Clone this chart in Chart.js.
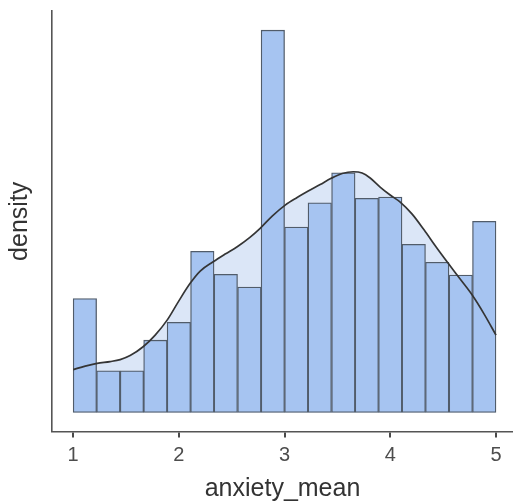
<!DOCTYPE html>
<html>
<head>
<meta charset="utf-8">
<script src="https://cdn.jsdelivr.net/npm/chart.js@4"></script>
<style>
html,body{margin:0;padding:0;background:#fff;}
#wrap{width:513px;height:504px;position:relative;}
</style>
</head>
<body>
<div id="wrap"><canvas id="c" width="513" height="504"></canvas></div>
<script>
// Histogram bins (centres of 18 bins from 1 to 5) and densities
const binCenters = [1.111, 1.333, 1.556, 1.778, 2.000, 2.222, 2.444, 2.667, 2.889,
                    3.111, 3.333, 3.556, 3.778, 4.000, 4.222, 4.444, 4.667, 4.889];
const binDensity = [0.178, 0.065, 0.065, 0.113, 0.141, 0.252, 0.216, 0.196, 0.598,
                    0.290, 0.328, 0.375, 0.335, 0.337, 0.263, 0.235, 0.215, 0.299];
// Kernel density curve
const kdeX = [1.000, 1.114, 1.227, 1.350, 1.445, 1.539, 1.662, 1.776, 1.889, 1.993,
              2.107, 2.202, 2.325, 2.438, 2.552, 2.675, 2.769, 2.883, 3.006, 3.119,
              3.242, 3.337, 3.441, 3.545, 3.649, 3.734, 3.810, 3.904, 3.999, 4.094,
              4.207, 4.321, 4.434, 4.548, 4.661, 4.775, 4.888, 5.000];
const kdeY = [0.067, 0.0725, 0.0767, 0.0795, 0.0826, 0.0889, 0.1027, 0.121, 0.1444, 0.1726,
              0.2019, 0.2211, 0.2357, 0.2477, 0.2592, 0.2743, 0.288, 0.3072, 0.3244, 0.3362,
              0.3479, 0.3565, 0.3662, 0.3737, 0.3765, 0.3745, 0.3667, 0.3526, 0.3401, 0.3291,
              0.3103, 0.2853, 0.2587, 0.2332, 0.2086, 0.1836, 0.1538, 0.121];
const xTicks = [1, 2, 3, 4, 5];
const xTitle = 'anxiety_mean';
const yTitle = 'density';

const kdePoints = kdeX.map((x, i) => ({x: x, y: kdeY[i]}));
const barPoints = binCenters.map((x, i) => ({x: x, y: binDensity[i]}));

new Chart(document.getElementById('c'), {
  data: {
    datasets: [
      {
        type: 'line', data: kdePoints, order: 3,
        borderWidth: 0, borderColor: 'rgba(0,0,0,0)',
        backgroundColor: '#dbe6f7', fill: 'origin',
        pointRadius: 0, tension: 0.4, cubicInterpolationMode: 'monotone'
      },
      {
        type: 'bar', data: barPoints, order: 2,
        backgroundColor: '#a6c4f1', borderColor: '#515c6a', borderWidth: 1.3,
        borderSkipped: false, barPercentage: 1.0, categoryPercentage: 1.0, grouped: false
      },
      {
        type: 'line', data: kdePoints, order: 1,
        borderWidth: 1.7, borderColor: '#353535', fill: false,
        pointRadius: 0, tension: 0.4, cubicInterpolationMode: 'monotone'
      }
    ]
  },
  options: {
    responsive: false,
    animation: false,
    layout: {padding: {top: 11, right: 0, left: 0, bottom: 0}},
    plugins: {legend: {display: false}, tooltip: {enabled: false}},
    scales: {
      x: {
        type: 'linear', min: 0.8, max: 5.161, offset: false,
        afterBuildTicks: (axis) => { axis.ticks = xTicks.map(v => ({value: v})); },
        afterFit: (axis) => { axis.height = 72.4; },
        grid: {display: true, offset: false, drawOnChartArea: false, drawTicks: true, tickLength: 6,
               color: '#4a4a4a', lineWidth: 2},
        border: {display: true, color: '#555555', width: 1.6},
        ticks: {color: '#4d4d4d', font: {family: 'Liberation Sans, Arial, sans-serif', size: 20},
                padding: 6, maxRotation: 0, autoSkip: false},
        title: {display: true, text: xTitle, color: '#333333',
                font: {family: 'Liberation Sans, Arial, sans-serif', size: 25},
                padding: {top: 0, bottom: 0}}
      },
      y: {
        type: 'linear', min: -0.03, max: 0.628,
        afterFit: (axis) => { axis.width = 52; },
        grid: {display: false, drawTicks: false},
        border: {display: true, color: '#555555', width: 1.6},
        ticks: {display: false},
        title: {display: true, text: yTitle, color: '#333333',
                font: {family: 'Liberation Sans, Arial, sans-serif', size: 25},
                padding: {top: 5, bottom: 0}}
      }
    }
  }
});
</script>
</body>
</html>
